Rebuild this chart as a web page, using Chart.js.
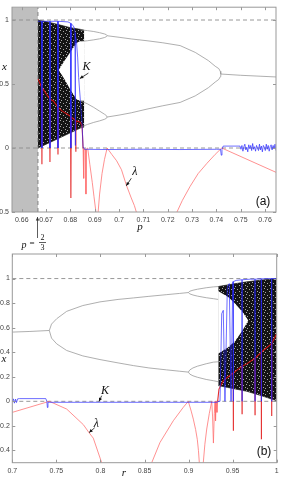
<!DOCTYPE html>
<html><head><meta charset="utf-8">
<script src="https://cdn.jsdelivr.net/npm/chart.js@4.4.1/dist/chart.umd.min.js"></script>
<style>
html,body{margin:0;padding:0;background:#fff;}
#wrap{position:relative;width:283px;height:483px;overflow:hidden;background:#fff;}
canvas{position:absolute;left:0;}
#ca{top:0;}
#cb{top:240px;}
</style></head><body>
<div id="wrap"><canvas id="ca" width="283" height="252"></canvas><canvas id="cb" width="283" height="243"></canvas></div>
<script>
// ================= Panel (a) : parameter p =================
const aXTicks = [0.66,0.67,0.68,0.69,0.7,0.71,0.72,0.73,0.74,0.75,0.76];
const aYTicks = [-0.5,0,0.5,1];
const aShadeP = [0.656, 0.66667];
const aShadeX = [1.1, 1.1];
const aChaosP = [0.66667,0.6705,0.6759,0.6800,0.6841,0.6857];
const aChaosTop = [1.0,0.985,0.96,0.94,0.927,0.92];
const aChaosBottom = [0.0,0.034,0.082,0.119,0.156,0.165];
const aWedgeP = [0.6752,0.6775,0.6800,0.6825,0.6841,0.6858];
const aWedgeTop = [0.61,0.68,0.75,0.82,0.835,0.835];
const aWedgeBottom = [0.61,0.539,0.455,0.38,0.37,0.37];
const aP4P = [0.6841,0.6870,0.6896,0.6920,0.6940,0.6948,0.6951,0.6948,0.6940,0.6920,0.6896,0.6870,0.6841];
const aP4Up = [0.923,0.917,0.910,0.901,0.891,0.885,0.877,0.870,0.863,0.853,0.845,0.838,0.832];
const aP4Lo = [0.369,0.345,0.317,0.288,0.264,0.253,0.242,0.232,0.224,0.212,0.200,0.184,0.162];
const aP2P = [0.6951,0.7000,0.7050,0.7115,0.7180,0.7251,0.7313,0.7367,0.7395,0.7410,0.7416,0.7418];
const aP2Up = [0.877,0.865,0.852,0.838,0.822,0.800,0.747,0.683,0.639,0.620,0.599,0.578];
const aP2Lo = [0.242,0.257,0.275,0.304,0.330,0.356,0.407,0.471,0.515,0.536,0.557,0.578];
const aP1P = [0.7418,0.7500,0.7645];
const aP1X = [0.578,0.568,0.555];
const aKP = [0.66667,0.6682,0.6683,0.6684,0.6715,0.6716,0.6717,0.6748,0.6749,0.6750,0.6790,0.6801,0.6802,0.6803,0.6812,0.6816,0.6819,0.6820,0.6821,0.6825,0.6830,0.6834,0.6841,0.6848,0.6852,0.6858,0.6950,0.7100,0.7250,0.7400,0.7417,0.7420,0.7423,0.7428,
  0.7497,0.7501,0.7505,0.7509,0.7513,0.7517,0.7521,0.7525,0.7529,0.7533,0.7537,0.7541,0.7545,0.7549,0.7553,0.7557,0.7561,0.7565,0.7569,0.7573,0.7577,0.7581,0.7585,0.7589,0.7593,0.7597,0.7601,0.7605,0.7609,0.7613,0.7617,0.7621,0.7625,0.7629,0.7633,0.7637,0.7641,0.7645];
const aKX = [0.99,0.99,0.0,0.99,0.99,0.0,0.99,0.99,0.0,0.99,0.985,0.975,0.0,0.97,0.955,0.936,0.9,0.02,0.88,0.833,0.704,0.55,0.37,0.19,0.01,-0.01,-0.012,-0.01,-0.012,-0.01,-0.01,-0.056,-0.01,0.015,
  0.015,-0.01,0.02,-0.025,0.01,0.03,-0.015,0.005,-0.03,0.025,-0.005,0.02,-0.02,0.035,-0.01,0.01,-0.025,0.02,0.0,-0.02,0.03,-0.015,0.015,-0.03,0.02,0.005,-0.02,0.03,-0.01,0.02,-0.025,0.01,0.025,-0.015,0.02,-0.005,0.03,-0.02];
const aLamChaosP = [0.66667,0.6676,0.6682,0.6683,0.6684,0.6695,0.6705,0.6715,0.6716,0.6717,0.6730,0.6748,0.6749,0.6750,0.6765,0.6786,0.6801,0.6802,0.6803,0.6815,0.6821,0.6822,0.6823,0.6835,0.6841,0.6848,0.6852];
const aLamChaosX = [0.54,0.50,0.475,-0.126,0.47,0.44,0.41,0.385,-0.11,0.38,0.368,0.32,-0.05,0.318,0.29,0.266,0.245,-0.39,0.243,0.225,0.215,-0.03,0.213,0.205,0.20,0.175,0.0];
const aLamP = [0.6852,0.6854,0.6855,0.6856,0.6863,0.6864,0.6865,0.6871,0.6880,0.6890,0.6897,0.6905,0.6910,0.6914,0.6920,0.6930,0.6940,0.6951,0.6970,0.6990,0.7010,0.7030,0.7050,0.7063,0.7071,0.7150,0.7238,0.7260,0.7292,0.7325,0.7361,0.7395,0.7422,0.7645];
const aLamX = [0.0,-0.01,-0.237,-0.01,-0.01,-0.36,-0.01,0.0,-0.13,-0.27,-0.38,-0.5,null,-0.5,-0.36,-0.2,-0.09,0.0,-0.05,-0.1,-0.17,-0.29,-0.39,-0.45,-0.5,null,-0.5,-0.41,-0.30,-0.2,-0.12,-0.05,0.0,-0.19];

// ================= Panel (b) : parameter r =================
const bXTicks = [0.7,0.75,0.8,0.85,0.9,0.95,1];
const bYTicks = [-0.4,-0.2,0,0.2,0.4,0.6,0.8,1];
const bChaosR = [0.9337,0.9500,0.9660,0.9830,1.0];
const bChaosTop = [0.935,0.955,0.973,0.988,1.0];
const bChaosBottom = [0.128,0.105,0.082,0.045,0.005];
const bWedgeR = [0.9335,0.9450,0.9527,0.9610,0.9678];
const bWedgeTop = [0.899,0.85,0.796,0.73,0.659];
const bWedgeBottom = [0.387,0.44,0.49,0.575,0.659];
const bP1R = [0.7,0.72,0.742];
const bP1X = [0.564,0.569,0.577];
const bP2R = [0.742,0.7445,0.7504,0.7617,0.7800,0.7995,0.8200,0.8373,0.8550,0.8752,0.8900,0.8997];
const bP2Up = [0.577,0.629,0.673,0.733,0.780,0.810,0.830,0.842,0.855,0.869,0.879,0.886];
const bP2Lo = [0.577,0.515,0.468,0.414,0.370,0.340,0.313,0.291,0.272,0.256,0.245,0.238];
const bP4R = [0.9335,0.9281,0.9200,0.9100,0.9050,0.9015,0.8997,0.9015,0.9050,0.9100,0.9200,0.9281,0.9335];
const bP4Up = [0.935,0.932,0.925,0.913,0.905,0.897,0.886,0.875,0.866,0.857,0.844,0.836,0.830];
const bP4Lo = [0.322,0.319,0.306,0.286,0.272,0.256,0.238,0.221,0.208,0.196,0.178,0.168,0.160];
const bKR = [0.7,0.7012,0.7024,0.7036,0.7048,0.7060,0.7080,0.7380,0.7392,0.7398,0.7405,0.9320,0.9345,0.9357,0.9376,0.9394,0.9413,0.9440,0.9462,0.9482,0.9501,0.9507,0.9508,0.9509,0.9540,0.9606,0.9607,0.9608,0.9700,0.9753,0.9754,0.9755,0.9825,0.9826,0.9827,0.9942,0.9943,0.9944,1.0];
const bKX = [0.0,0.02,-0.015,0.018,-0.01,0.02,0.022,0.022,0.0,-0.05,-0.008,-0.008,0.0,0.0,0.714,0.741,0.0,0.932,0.959,0.0,0.973,0.975,0.0,0.975,0.985,0.99,0.0,0.99,0.995,0.995,0.0,0.995,0.998,0.0,0.998,1.0,0.0,1.0,1.0];
const bLamR = [0.7,0.742,0.7617,0.7806,0.7870,0.7919,0.8014,0.83,0.8582,0.8676,0.8827,0.8940,0.8997,0.9030,0.9054,0.9080,0.9099,0.9112,0.9122,0.9145,0.9167,0.9185,0.9206,0.9235,0.9263,0.9272,0.9282,0.9292,0.9300,0.9306,0.9312,0.9322,0.9330];
const bLamX = [-0.09,0.0,-0.063,-0.19,-0.255,-0.3,-0.5,null,-0.5,-0.335,-0.158,-0.049,0.0,-0.08,-0.145,-0.23,-0.31,-0.4,-0.5,null,-0.5,-0.35,-0.226,-0.1,0.0,-0.12,-0.34,-0.1,0.0,-0.16,0.0,-0.09,0.0];
const bLamChaosR = [0.9330,0.9345,0.9394,0.9450,0.9507,0.9508,0.9509,0.9560,0.9606,0.9607,0.9608,0.9660,0.9753,0.9754,0.9755,0.9825,0.9826,0.9827,0.9848,0.9942,0.9943,0.9944,1.0];
const bLamChaosX = [0.0,0.1,0.168,0.2,0.23,-0.24,0.23,0.26,0.285,-0.1,0.285,0.305,0.35,-0.11,0.35,0.40,-0.31,0.40,0.414,0.47,-0.12,0.47,0.55];

// ================= helpers =================
const SERIF = "'Liberation Serif','DejaVu Serif',serif";
const SANS = "'Liberation Sans',Arial,'DejaVu Sans',sans-serif";
const GRAY_LINE = '#9a9a9a';
const BLUE = 'rgba(40,40,255,0.68)';
const PINK = 'rgba(255,110,110,0.85)';
const RED = 'rgba(225,20,20,0.9)';
const EDGE = '#1c1c1c';

// fine speckled texture for the chaotic bands (a fixed, regular tile)
function speckle(){
  const c = document.createElement('canvas'); c.width = 6; c.height = 6;
  const g = c.getContext('2d');
  g.fillStyle = '#141414'; g.fillRect(0, 0, 6, 6);
  g.fillStyle = '#a8a8a8';
  [[0,0],[3,1],[5,3],[1,4]].forEach(p => g.fillRect(p[0], p[1], 1, 1));
  return g.createPattern(c, 'repeat');
}
const CHAOS = speckle();
const SHADE = '#bfbfbf';

function xy(xs, ys){ return xs.map((x,i)=>({x:x, y:ys[i]})); }
function ds(xs, ys, color, width, order, extra){
  return Object.assign({data: xy(xs,ys), borderColor: color, borderWidth: width, pointRadius: 0,
    fill: false, tension: 0, order: order}, extra || {});
}
function arrow(ctx, x1, y1, x2, y2){
  ctx.beginPath(); ctx.moveTo(x1,y1); ctx.lineTo(x2,y2); ctx.stroke();
  const a = Math.atan2(y2-y1, x2-x1), L = 3.5, W = 1.7;
  ctx.beginPath(); ctx.moveTo(x2,y2);
  ctx.lineTo(x2-L*Math.cos(a)+W*Math.sin(a), y2-L*Math.sin(a)-W*Math.cos(a));
  ctx.lineTo(x2-L*Math.cos(a)-W*Math.sin(a), y2-L*Math.sin(a)+W*Math.cos(a));
  ctx.closePath(); ctx.fill();
}
function txt(ctx, s, x, y, font, align){
  ctx.font = font; ctx.fillStyle = '#111'; ctx.textAlign = align || 'center'; ctx.textBaseline = 'middle';
  ctx.fillText(s, x, y);
}
function frame(chart, xt, yt){
  const {ctx, chartArea: a, scales: {x, y}} = chart;
  ctx.save(); ctx.strokeStyle = '#999'; ctx.lineWidth = 1;
  ctx.strokeRect(a.left, a.top, a.right - a.left, a.bottom - a.top);
  ctx.beginPath();
  xt.forEach(v => { const p = Math.round(x.getPixelForValue(v)) + 0.5;
    ctx.moveTo(p, a.bottom); ctx.lineTo(p, a.bottom - 3); ctx.moveTo(p, a.top); ctx.lineTo(p, a.top + 3); });
  yt.forEach(v => { const q = Math.round(y.getPixelForValue(v)) + 0.5;
    ctx.moveTo(a.left, q); ctx.lineTo(a.left + 3, q); ctx.moveTo(a.right, q); ctx.lineTo(a.right - 3, q); });
  ctx.stroke(); ctx.restore();
}
function annot(chart, lab, lx, ly, tx, ty, hx, hy){
  const {ctx, scales: {x, y}} = chart;
  ctx.save(); ctx.strokeStyle = '#111'; ctx.fillStyle = '#111'; ctx.lineWidth = 0.8;
  arrow(ctx, x.getPixelForValue(tx), y.getPixelForValue(ty), x.getPixelForValue(hx), y.getPixelForValue(hy));
  txt(ctx, lab, x.getPixelForValue(lx), y.getPixelForValue(ly), 'italic 12px ' + SERIF);
  ctx.restore();
}
function scaleOpts(min, max, ticks, size, pad){
  return { type: 'linear', min: min, max: max,
    afterBuildTicks: ax => { ax.ticks = ticks.map(v => ({value: v})); },
    afterFit: ax => { if (ax.isHorizontal()) ax.height = size; else ax.width = size; },
    grid: {display: false, drawTicks: false}, border: {display: false},
    ticks: {font: {family: SANS, size: 7}, color: '#444', padding: pad, autoSkip: false, maxRotation: 0,
      callback: v => String(v)} };
}

// ================= chart (a) =================
new Chart(document.getElementById('ca'), {
  type: 'line',
  data: { datasets: [
    ds(aShadeP, aShadeX, 'rgba(0,0,0,0)', 0, 100, {fill: 'start', backgroundColor: SHADE}),
    ds(aChaosP, aChaosTop, EDGE, 0.7, 90, {fill: '+1', backgroundColor: CHAOS}),
    ds(aChaosP, aChaosBottom, EDGE, 0.7, 89),
    ds(aWedgeP, aWedgeTop, 'rgba(0,0,0,0)', 0, 80, {fill: '+1', backgroundColor: '#ffffff'}),
    ds(aWedgeP, aWedgeBottom, 'rgba(0,0,0,0)', 0, 79),
    ds([0.656,0.7645], [1,1], '#8c8c8c', 0.9, 70, {borderDash: [4,3]}),
    ds([0.656,0.7645], [0,0], '#8c8c8c', 0.9, 70, {borderDash: [4,3]}),
    ds([0.66667,0.66667], [-0.5,1.1], '#777', 0.9, 70, {borderDash: [4,3]}),
    ds(aP4P, aP4Up, GRAY_LINE, 0.8, 60),
    ds(aP4P, aP4Lo, GRAY_LINE, 0.8, 60),
    ds(aP2P, aP2Up, GRAY_LINE, 0.8, 60),
    ds(aP2P, aP2Lo, GRAY_LINE, 0.8, 60),
    ds(aP1P, aP1X, GRAY_LINE, 0.8, 60),
    ds(aLamP, aLamX, PINK, 0.9, 50),
    ds(aLamChaosP, aLamChaosX, RED, 1.1, 45),
    ds(aKP, aKX, BLUE, 1, 40)
  ]},
  options: {
    responsive: false, animation: false, devicePixelRatio: 1, events: [],
    layout: {padding: {left: 0, right: 7, top: 5, bottom: 0}},
    plugins: {legend: {display: false}, tooltip: {enabled: false}},
    scales: { x: scaleOpts(0.656, 0.7645, aXTicks, 40, 3.5), y: scaleOpts(-0.5, 1.1, aYTicks, 12, 3) }
  },
  plugins: [{ id: 'decoA', afterDraw(chart){
    const {ctx, chartArea: a, scales: {x}} = chart;
    frame(chart, aXTicks, aYTicks);
    ctx.save();
    txt(ctx, 'x', 4.5, 67, 'italic 11px ' + SERIF);
    txt(ctx, 'p', 140, 227.5, 'italic 11px ' + SERIF);
    txt(ctx, '(a)', 263, 202, '12px ' + SANS);
    annot(chart, 'K', 0.6866, 0.635, 0.6874, 0.585, 0.6839, 0.5425);
    annot(chart, '\u03bb', 0.70646, -0.19, 0.70503, -0.2365, 0.70297, -0.295);
    const px = Math.round(x.getPixelForValue(0.66667)) - 0.5;
    ctx.strokeStyle = '#333'; ctx.fillStyle = '#333'; ctx.lineWidth = 0.8;
    arrow(ctx, px, a.bottom + 26, px, a.bottom + 5);
    txt(ctx, 'p', 24, 245, 'italic 10px ' + SERIF);
    txt(ctx, '=', 32, 244, '9px ' + SERIF);
    txt(ctx, '2', 42.5, 237.5, '8px ' + SERIF);
    txt(ctx, '3', 42.5, 247.5, '8px ' + SERIF);
    ctx.beginPath(); ctx.moveTo(39, 242.5); ctx.lineTo(46, 242.5); ctx.stroke();
    ctx.restore();
  }}]
});

// ================= chart (b) =================
new Chart(document.getElementById('cb'), {
  type: 'line',
  data: { datasets: [
    ds(bChaosR, bChaosTop, EDGE, 0.7, 90, {fill: '+1', backgroundColor: CHAOS}),
    ds(bChaosR, bChaosBottom, EDGE, 0.7, 89),
    ds(bWedgeR, bWedgeTop, 'rgba(0,0,0,0)', 0, 80, {fill: '+1', backgroundColor: '#ffffff'}),
    ds(bWedgeR, bWedgeBottom, 'rgba(0,0,0,0)', 0, 79),
    ds([0.7,1.0], [1,1], '#8c8c8c', 0.9, 70, {borderDash: [4,3]}),
    ds([0.7,1.0], [0,0], '#8c8c8c', 0.9, 70, {borderDash: [4,3]}),
    ds(bP1R, bP1X, GRAY_LINE, 0.8, 60),
    ds(bP2R, bP2Up, GRAY_LINE, 0.8, 60),
    ds(bP2R, bP2Lo, GRAY_LINE, 0.8, 60),
    ds(bP4R, bP4Up, GRAY_LINE, 0.8, 60),
    ds(bP4R, bP4Lo, GRAY_LINE, 0.8, 60),
    ds(bLamR, bLamX, PINK, 0.9, 50),
    ds(bLamChaosR, bLamChaosX, RED, 1.1, 45),
    ds(bKR, bKX, BLUE, 1, 40)
  ]},
  options: {
    responsive: false, animation: false, devicePixelRatio: 1, events: [],
    layout: {padding: {left: 0, right: 6.3, top: 14, bottom: 0}},
    plugins: {legend: {display: false}, tooltip: {enabled: false}},
    scales: { x: scaleOpts(0.7, 1.0, bXTicks, 20.3, 4), y: scaleOpts(-0.5, 1.2, bYTicks, 12.3, 2.5) }
  },
  plugins: [{ id: 'decoB', afterDraw(chart){
    const {ctx} = chart;
    frame(chart, bXTicks, bYTicks);
    ctx.save();
    txt(ctx, 'x', 4, 119, 'italic 11px ' + SERIF);
    txt(ctx, 'r', 124, 233, 'italic 11px ' + SERIF);
    txt(ctx, '(b)', 264, 212, '12px ' + SANS);
    annot(chart, 'K', 0.80519, 0.0867, 0.80144, 0.0458, 0.7984, 0.0);
    annot(chart, '\u03bb', 0.7955, -0.185, 0.7935, -0.215, 0.7872, -0.255);
    ctx.restore();
  }}]
});
</script>
</body></html>
